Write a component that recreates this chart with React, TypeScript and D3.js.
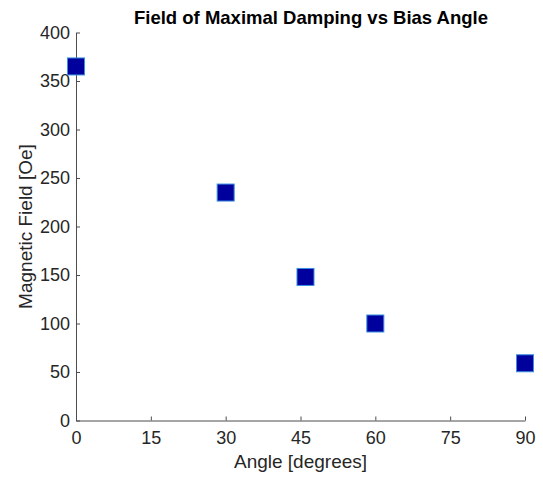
import React, { useEffect, useRef } from 'react';
import * as d3 from 'd3';

const angles = [0, 30, 46, 60, 90];
const fields = [365, 235, 148, 100, 59];
const xTicks = [0, 15, 30, 45, 60, 75, 90];
const yTicks = [0, 50, 100, 150, 200, 250, 300, 350, 400];

const W = 543;
const H = 477;
const margin = { top: 32.5, right: 18, bottom: 56.5, left: 76 };
const font = '"Liberation Sans", Arial, Helvetica, sans-serif';
const axisColor = '#4d4d4d';
const textColor = '#262626';

export default function App() {
  const svgRef = useRef<SVGSVGElement>(null);

  useEffect(() => {
    if (!svgRef.current) return;
    const svg = d3.select(svgRef.current);
    svg.selectAll('*').remove();

    const innerW = W - margin.left - margin.right;
    const innerH = H - margin.top - margin.bottom;

    const x = d3.scaleLinear().domain([0, 90]).range([0, innerW]);
    const y = d3.scaleLinear().domain([0, 400]).range([innerH, 0]);

    const g = svg.append('g').attr('transform', `translate(${margin.left},${margin.top})`);

    // x axis, ticks pointing inward
    const xAxis = g.append('g')
      .attr('transform', `translate(0,${innerH})`)
      .call(d3.axisBottom(x).tickValues(xTicks).tickSizeInner(-4).tickSizeOuter(0).tickPadding(11));
    xAxis.select('.domain').attr('stroke', axisColor);
    xAxis.selectAll('.tick line').attr('stroke', axisColor);
    xAxis.selectAll('text')
      .style('font-family', font)
      .style('font-size', '18px')
      .attr('fill', textColor);

    const yAxis = g.append('g')
      .call(d3.axisLeft(y).tickValues(yTicks).tickSizeInner(-4).tickSizeOuter(0).tickPadding(6));
    yAxis.select('.domain').attr('stroke', axisColor);
    yAxis.selectAll('.tick line').attr('stroke', axisColor);
    yAxis.selectAll('text')
      .style('font-family', font)
      .style('font-size', '18px')
      .attr('fill', textColor);

    // markers
    const s = 17;
    g.selectAll('.pt')
      .data(angles.map((a, i) => ({ a, f: fields[i] })))
      .enter()
      .append('rect')
      .attr('class', 'pt')
      .attr('x', d => x(d.a) - s / 2)
      .attr('y', d => y(d.f) - s / 2)
      .attr('width', s)
      .attr('height', s)
      .attr('fill', '#00009c')
      .attr('stroke', '#3a8fe0')
      .attr('stroke-width', 1);

    // title
    svg.append('text')
      .attr('x', 311)
      .attr('y', 24)
      .attr('text-anchor', 'middle')
      .style('font-family', font)
      .style('font-size', '18.5px')
      .style('font-weight', 'bold')
      .attr('fill', '#000')
      .text('Field of Maximal Damping vs Bias Angle');

    // axis labels
    svg.append('text')
      .attr('x', margin.left + innerW / 2)
      .attr('y', 468)
      .attr('text-anchor', 'middle')
      .style('font-family', font)
      .style('font-size', '19px')
      .attr('fill', textColor)
      .text('Angle [degrees]');

    svg.append('text')
      .attr('transform', `translate(32,${margin.top + innerH / 2}) rotate(-90)`)
      .attr('text-anchor', 'middle')
      .style('font-family', font)
      .style('font-size', '19px')
      .attr('fill', textColor)
      .text('Magnetic Field [Oe]');
  }, []);

  return (
    <div style={{ position: 'absolute', left: 0, top: 0, width: W, height: H, background: '#fff' }}>
      <svg ref={svgRef} width={W} height={H} />
    </div>
  );
}
